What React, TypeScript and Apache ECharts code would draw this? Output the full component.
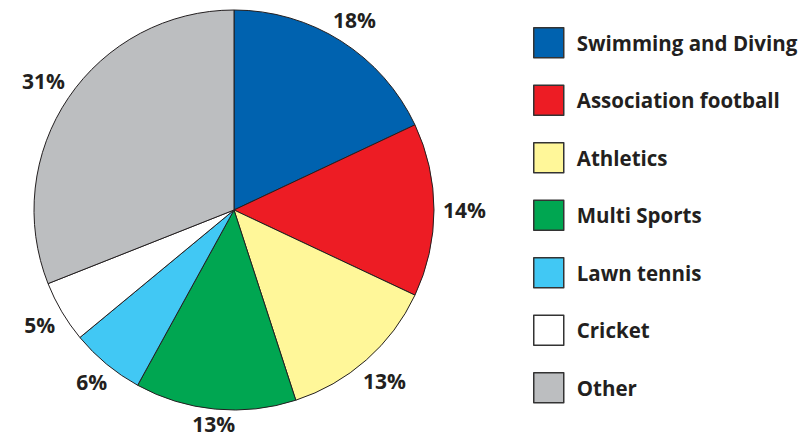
import React, { useEffect, useRef } from "react";
import * as echarts from "echarts";

const categories = [
  "Swimming and Diving",
  "Association football",
  "Athletics",
  "Multi Sports",
  "Lawn tennis",
  "Cricket",
  "Other",
];
const values = [18, 14, 13, 13, 6, 5, 31];
const colors = ["#0062AF", "#ED1C24", "#FFF799", "#00A651", "#41C8F4", "#FFFFFF", "#BCBEC0"];

const FONT = "'Open Sans', 'Noto Sans', sans-serif";
const DARK = "#231F20";

export default function App() {
  const ref = useRef<HTMLDivElement>(null);
  useEffect(() => {
    document.body.style.margin = "0";
    const chart = echarts.init(ref.current!, null, { renderer: "svg" });
    const total = values.reduce((a, b) => a + b, 0);
    const mids: number[] = [];
    let acc = 0;
    values.forEach((v) => {
      mids.push(((acc + v / 2) / total) * Math.PI * 2);
      acc += v;
    });
    const data = categories.map((name, i) => ({
      name,
      value: values[i],
      itemStyle: { color: colors[i] },
    }));
    chart.setOption({
      animation: false,
      backgroundColor: "#ffffff",
      legend: {
        orient: "vertical",
        left: 533,
        top: 27,
        padding: 0,
        itemWidth: 30,
        itemHeight: 30,
        itemGap: 26,
        icon: "rect",
        data: categories,
        selectedMode: false,
        itemStyle: { borderColor: "#333333", borderWidth: 1.5 },
        textStyle: {
          fontFamily: FONT,
          fontWeight: "bold",
          fontSize: 20.5,
          color: DARK,
          padding: [0, 0, 0, 8],
        },
      },
      series: [
        {
          type: "pie",
          center: [234, 210],
          radius: 200,
          startAngle: 90,
          clockwise: true,
          silent: true,
          label: { show: false },
          labelLine: { show: false },
          itemStyle: { borderColor: DARK, borderWidth: 1 },
          data,
        },
        {
          type: "pie",
          center: [234, 210],
          radius: [194, 210],
          startAngle: 90,
          clockwise: true,
          silent: true,
          itemStyle: { color: "rgba(0,0,0,0)", borderWidth: 0 },
          label: {
            show: true,
            position: "inside",
            formatter: "{c}%",
            fontFamily: FONT,
            fontWeight: "bold",
            fontSize: 21,
            lineHeight: 20,
            color: DARK,
          },
          labelLine: { show: false },
          labelLayout: (p: any) => {
            const t = mids[p.dataIndex];
            const s = Math.sin(t);
            const c = Math.cos(t);
            const hw = p.labelRect.width / 2;
            const hh = p.labelRect.height * 0.36;
            const k = Math.abs(s) * (hw + 4) + Math.abs(c) * hh;
            return { dx: s * k, dy: -c * k };
          },
          data: categories.map((name, i) => ({ name, value: values[i] })),
        },
      ],
    });
    return () => chart.dispose();
  }, []);
  return <div ref={ref} style={{ width: 799, height: 439 }} />;
}
